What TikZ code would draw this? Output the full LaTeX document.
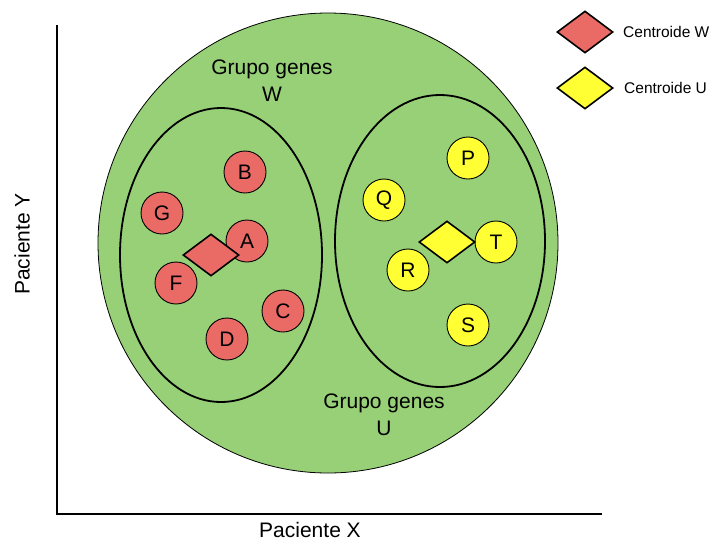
\documentclass[tikz,border=0pt]{standalone}
\usepackage{fontspec}
\setmainfont{Liberation Sans}
\usetikzlibrary{shapes.geometric}
\definecolor{grupo}{HTML}{97D077}
\definecolor{genw}{HTML}{EA6B66}
\definecolor{genu}{HTML}{FFFF33}
\newcommand{\labelsize}{\fontsize{21}{27}\selectfont}

\begin{document}
\begin{tikzpicture}[x=1pt,y=-1pt]
\tikzstyle{plain}=[font=\labelsize, inner sep=0pt, align=center]
\tikzstyle{gene}=[circle, draw, line width=0.9pt, minimum size=42pt, inner sep=0pt, font=\labelsize]
\tikzstyle{centroid}=[diamond, draw, line width=1.6pt, minimum width=56pt, minimum height=42pt, inner sep=0pt]
\tikzstyle{cluster}=[ellipse, draw, line width=1.8pt, inner sep=0pt]
\useasboundingbox (0,0) rectangle (717,542);

% ejes
\coordinate (top) at (57,25);
\coordinate (origin) at (57,514);
\coordinate (end) at (602,514);
\draw [line width=1.2pt] (top) -- (origin) -- (end);
\draw node [plain] at (310,530) (px) {Paciente X};
\draw node [plain,rotate=90] at (22,244) (py) {Paciente Y};

% grupos
\draw node [circle, draw, fill=grupo, line width=0.8pt, minimum size=460pt] at (328,243) (all) {};
\draw node [cluster, minimum width=202pt, minimum height=294pt] at (221,255) (W) {};
\draw node [cluster, minimum width=210pt, minimum height=292pt] at (440,241) (U) {};
\draw node [plain] at (272,81) (lw) {Grupo genes\\W};
\draw node [plain] at (384,415) (lu) {Grupo genes\\U};

% genes W
\draw node [gene, fill=genw] at (245,172) (B) {B};
\draw node [gene, fill=genw] at (162,213) (G) {G};
\draw node [gene, fill=genw] at (247,241) (A) {A};
\draw node [gene, fill=genw] at (176,283) (F) {F};
\draw node [gene, fill=genw] at (283,311) (C) {C};
\draw node [gene, fill=genw] at (227,339) (D) {D};
\draw node [centroid, fill=genw] at (211,255) (cw) {};

% genes U
\draw node [gene, fill=genu] at (468,158) (P) {P};
\draw node [gene, fill=genu] at (384,200) (Q) {Q};
\draw node [gene, fill=genu] at (496,242) (T) {T};
\draw node [gene, fill=genu] at (408,270) (R) {R};
\draw node [gene, fill=genu] at (468,325) (S) {S};
\draw node [centroid, fill=genu] at (447,242) (cu) {};

% leyenda
\draw node [centroid, fill=genw] at (585,32) (kw) {};
\draw node [centroid, fill=genu] at (585,88) (ku) {};
\draw node [font=\fontsize{15.5}{18}\selectfont, inner sep=0pt, anchor=west] at (623,32) (tw) {Centroide W};
\draw node [font=\fontsize{15.5}{18}\selectfont, inner sep=0pt, anchor=west] at (624,88) (tu) {Centroide U};
\end{tikzpicture}
\end{document}
